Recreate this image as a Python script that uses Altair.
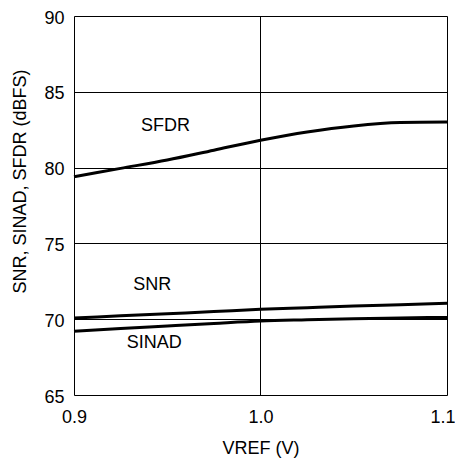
import altair as alt
import pandas as pd

vref = [0.9, 0.925, 0.95, 0.975, 1.0, 1.025, 1.05, 1.075, 1.1]
sfdr = [79.4, 79.95, 80.5, 81.15, 81.8, 82.35, 82.75, 82.97, 83.0]
snr = [70.08, 70.22, 70.36, 70.5, 70.65, 70.76, 70.87, 70.96, 71.05]
sinad = [69.2, 69.38, 69.55, 69.72, 69.88, 69.96, 70.03, 70.08, 70.12]

label_names = ["SFDR", "SNR", "SINAD"]
label_x = [0.949, 0.942, 0.943]
label_y = [82.77, 72.26, 68.43]

rows = []
for name, vals in [("SFDR", sfdr), ("SNR", snr), ("SINAD", sinad)]:
    for x, y in zip(vref, vals):
        rows.append({"series": name, "vref": x, "val": y})
df = pd.DataFrame(rows)
lab = pd.DataFrame({"name": label_names, "x": label_x, "y": label_y})

FONT = "Liberation Sans"

xsc = alt.Scale(domain=[0.9, 1.1], nice=False, zero=False)
ysc = alt.Scale(domain=[65, 90], nice=False, zero=False)

lines = alt.Chart(df).mark_line(color="black", strokeWidth=3, interpolate="monotone").encode(
    x=alt.X("vref:Q", scale=xsc, title="VREF (V)",
            axis=alt.Axis(values=[0.9, 1.0, 1.1], format=".1f", ticks=False, domain=False,
                          gridColor="black", gridOpacity=1, gridWidth=1,
                          labelFont=FONT, labelFontSize=18, labelColor="black", labelPadding=13,
                          labelFlush=False, labelOverlap=False,
                          labelAlign=alt.expr("datum.value > 1.05 ? 'right' : 'center'"),
                          labelOffset=alt.expr("datum.value > 1.05 ? 8 : 0"),
                          titleFont=FONT, titleFontSize=18, titleFontWeight="normal",
                          titleColor="black", titlePadding=13)),
    y=alt.Y("val:Q", scale=ysc, title="SNR, SINAD, SFDR (dBFS)",
            axis=alt.Axis(values=[65, 70, 75, 80, 85, 90], ticks=False, domain=False,
                          gridColor="black", gridOpacity=1, gridWidth=1,
                          labelFont=FONT, labelFontSize=18, labelColor="black", labelPadding=10,
                          labelFlush=False, labelOverlap=False, labelOffset=2,
                          titleFont=FONT, titleFontSize=18, titleFontWeight="normal",
                          titleColor="black", titleX=-54, titleY=165,
                          titleAlign="center", titleBaseline="middle")),
    detail="series:N",
)

texts = alt.Chart(lab).mark_text(font=FONT, fontSize=18, color="black", align="center", baseline="middle").encode(
    x=alt.X("x:Q", scale=xsc),
    y=alt.Y("y:Q", scale=ysc),
    text="name:N",
)

chart = alt.layer(lines, texts).properties(
    width=373, height=379,
    autosize=alt.AutoSizeParams(type="none"),
    padding={"left": 66, "top": 8, "right": 8, "bottom": 68},
).configure_view(stroke="black", strokeWidth=2).configure(background="white")

chart.save("out.html", embed_options={"renderer": "svg", "actions": False})
